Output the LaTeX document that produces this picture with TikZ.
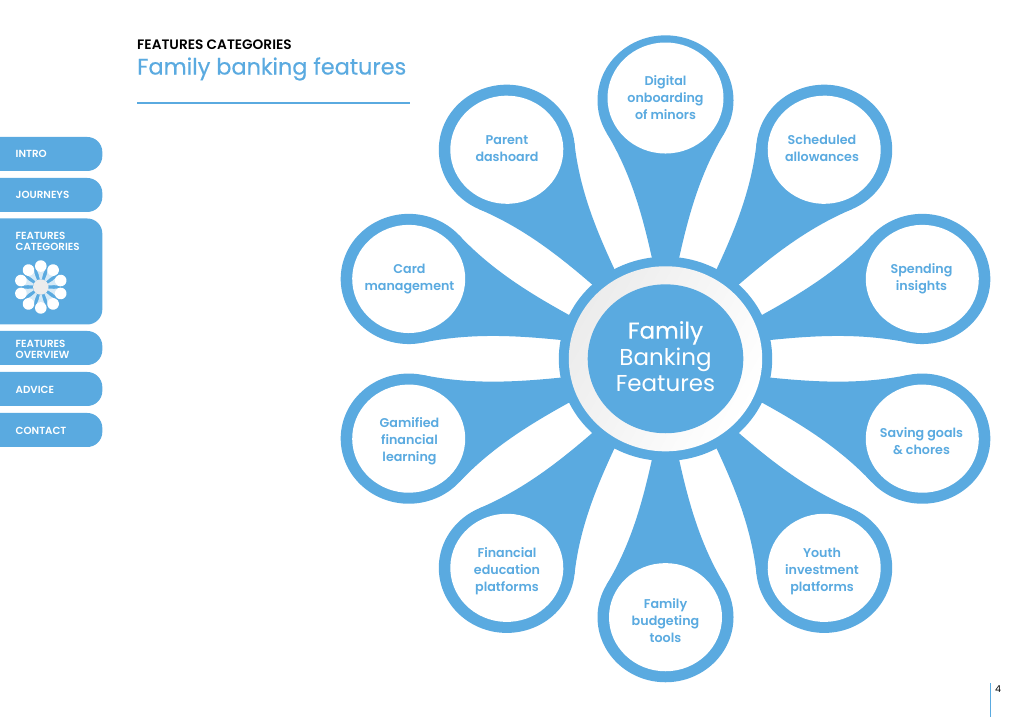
\documentclass[tikz,border=0pt]{standalone}
\usepackage{fontspec}
\setmainfont{Poppins SemiBold}
\newfontfamily\lightfont{Poppins}
\definecolor{bankblue}{HTML}{5AAAE0}
\definecolor{ringgray}{HTML}{ECECEC}
\begin{document}
\begin{tikzpicture}[
    x=1pt, y=1pt,
    petal/.style={fill=bankblue},
    tabbox/.style={fill=bankblue, rounded corners=15pt, anchor=east, minimum width=130pt, inner sep=0pt},
    tabtext/.style={text=white, anchor=west, align=left, inner sep=0pt, font=\fontsize{10.3}{10.8}\selectfont},
    leaflabel/.style={text=bankblue, align=center, inner sep=0pt, font=\fontsize{12.7}{17}\selectfont},
]
\useasboundingbox (0,0) rectangle (1024,717);

% Header
\node[anchor=west, inner sep=0pt, font=\fontsize{13.7}{15}\selectfont] (kicker) at (137,672.7) {FEATURES CATEGORIES};
\node[anchor=west, inner sep=0pt, text=bankblue, font=\lightfont\fontsize{22.4}{26}\selectfont] (title) at (137,648) {\addfontfeature{FakeBold=0.4}Family banking features};
\coordinate (ruleL) at (137,614);
\coordinate (ruleR) at (410,614);
\draw[bankblue, line width=1.1pt] (ruleL) -- (ruleR);

% Side tabs
\foreach \tabname/\ypos/\tabh in {intro/563/34, journeys/522/34, categories/445.5/106, overview/369/34, advice/328/34, contact/287/34}{
  \node[tabbox, minimum height=\tabh pt] (\tabname) at (102.5,\ypos) {};
}
\node[tabtext] (introtxt) at (15.5,563) {INTRO};
\node[tabtext] (journeystxt) at (15.5,522) {JOURNEYS};
\node[tabtext] (categoriestxt) at (15.5,475.5) {FEATURES\\CATEGORIES};
\node[tabtext] (overviewtxt) at (15.5,368) {FEATURES\\OVERVIEW};
\node[tabtext] (advicetxt) at (15.5,327.5) {ADVICE};
\node[tabtext] (contacttxt) at (15.5,286.5) {CONTACT};

% Small flower on the active tab
\begin{scope}[shift={(40.8,430)}, scale=0.0775]
\foreach \a in {0,36,...,324}{
  \begin{scope}[rotate=\a]
  \fill[white!75!bankblue] (12.5,100) .. controls (22.4,147.7) and (33.9,192.7) .. (58.9,236)
      -- (0,270) -- (-58.9,236) .. controls (-33.9,192.7) and (-22.4,147.7) .. (-12.5,100) -- cycle;
  \fill[white] (0,270) circle[radius=75];
  \end{scope}
}
\fill[ringgray] (0,0) circle[radius=100];
\end{scope}

% Big flower
\begin{scope}[shift={(665.5,358.2)}, yscale=0.957]
\foreach \a in {0,36,...,324}{
  \begin{scope}[rotate=\a]
  \fill[petal] (12.5,100) .. controls (22.4,147.7) and (33.9,192.7) .. (58.9,236)
      -- (0,270) -- (-58.9,236) .. controls (-33.9,192.7) and (-22.4,147.7) .. (-12.5,100) -- cycle;
  \fill[petal] (0,270) circle[radius=68];
  \end{scope}
}
\foreach \a in {36,72,...,324}{
  \fill[white, rotate=\a] (0,270) circle[radius=56.5];
}
\fill[white] (0,272.5) circle[radius=58];

% Hub
\fill[petal] (0,0) circle[radius=106.7];
\shade[top color=ringgray, middle color=white!70!ringgray, bottom color=white, shading angle=60] (0,0) circle[radius=96.7];
\fill[petal] (0,0) circle[radius=77.8];
\end{scope}
\node[text=white, align=center, inner sep=0pt, font=\lightfont\fontsize{23}{26.5}\selectfont] (hub) at (665.5,360.5) {\addfontfeature{FakeBold=0.3}Family\\Banking\\Features};

% Labels, clockwise from the top
\node[leaflabel] (digital) at (665.5,619) {Digital\\onboarding\\of minors};
\node[leaflabel] (scheduled) at (822,568.5) {Scheduled\\allowances};
\node[leaflabel] (spending) at (921.5,438.5) {Spending\\insights};
\node[leaflabel] (saving) at (921.5,275.7) {Saving goals\\\& chores};
\node[leaflabel] (youth) at (822,146) {Youth\\investment\\platforms};
\node[leaflabel] (budgeting) at (665.5,96.3) {Family\\budgeting\\tools};
\node[leaflabel] (education) at (507,146) {Financial\\education\\platforms};
\node[leaflabel] (gamified) at (409.5,276) {Gamified\\financial\\learning};
\node[leaflabel] (card) at (409.5,438) {Card\\management};
\node[leaflabel] (parent) at (507,568) {Parent\\dashoard};

% Page number
\coordinate (pageT) at (990.5,34);
\coordinate (pageB) at (990.5,0);
\draw[bankblue, line width=0.9pt] (pageT) -- (pageB);
\node[inner sep=0pt, font=\lightfont\fontsize{9.5}{11}\selectfont] (pagenum) at (998,28) {4};
\end{tikzpicture}
\end{document}
